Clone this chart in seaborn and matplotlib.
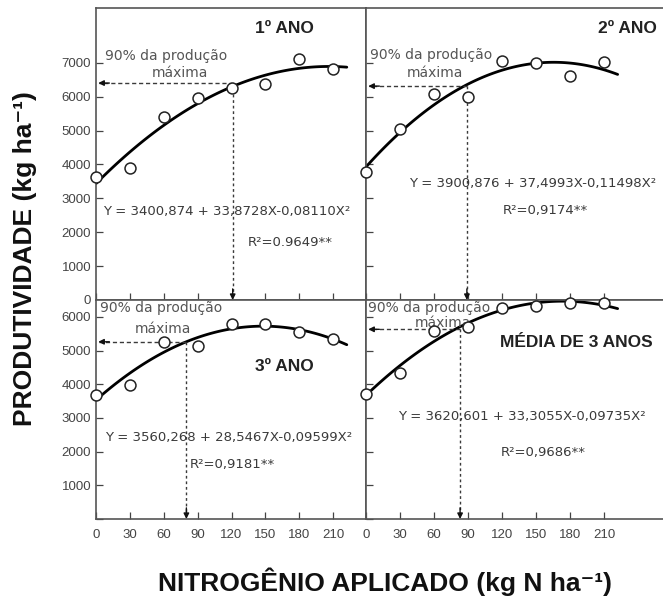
import matplotlib

matplotlib.use("Agg")
import matplotlib.pyplot as plt
import seaborn as sns

# doses de N (kg N/ha) e produtividade (kg/ha)
n_doses = [0, 30, 60, 90, 120, 150, 180, 210]
ano1 = [3630, 3890, 5400, 5950, 6250, 6370, 7100, 6800]
ano2 = [3780, 5040, 6070, 5980, 7050, 6990, 6600, 7030]
ano3 = [3680, 3980, 5260, 5130, 5800, 5780, 5560, 5330]
media = [3700, 4340, 5590, 5710, 6250, 6320, 6420, 6400]

titulos = ["1º ANO", "2º ANO", "3º ANO", "MÉDIA DE 3 ANOS"]
equacoes = [
    "Y = 3400,874 + 33,8728X-0,08110X²",
    "Y = 3900,876 + 37,4993X-0,11498X²",
    "Y = 3560,268 + 28,5467X-0,09599X²",
    "Y = 3620,601 + 33,3055X-0,09735X²",
]
r2_textos = ["R²=0.9649**", "R²=0,9174**", "R²=0,9181**", "R²=0,9686**"]

# ponto de 90% da produção máxima (dose, produtividade)
dose_90 = [121, 89, 80, 83]
prod_90 = [6400, 6310, 5260, 5630]

x_ticks = [0, 30, 60, 90, 120, 150, 180, 210]

sns.set_style("ticks")
plt.rcParams["font.family"] = ["Liberation Sans", "DejaVu Sans"]

W, H = 663, 600
fig = plt.figure(figsize=(W / 100, H / 100), dpi=100)

# posições em pixels: (esquerda, base, largura, altura)
caixas = [
    (96, 300, 270, 292),
    (366, 300, 297, 292),
    (96, 519, 270, 219),
    (366, 519, 297, 219),
]
limites_x = [239, 262, 239, 262]
limites_y = [8614, 8614, 6500, 6500]

# posições dos textos em coordenadas de dados
pos_titulo = [(167, 8020, "center"), (231, 8020, "center"), (167, 4540, "center"), (118, 5250, "left")]
pos_90 = [(8, 7200), (3.5, 7230), (3.5, 6260), (2, 6260)]
pos_max = [(74, 6700), (61, 6700), (59, 5640), (68, 5820)]
pos_eq = [(6, 2600), (38, 3450), (8, 2430), (28, 3030)]
pos_r2 = [(172, 1710), (158, 2650), (121, 1630), (156, 1960)]

series = [ano1, ano2, ano3, media]
cinza = "#3a3a3a"
fonte_peq = ["DejaVu Sans"]

for i, valores in enumerate(series):
    esq, base, larg, alt = caixas[i]
    ax = fig.add_axes([esq / W, 1 - base / H, larg / W, alt / H])

    # curva quadrática ajustada (até ~222 kg N/ha)
    ax.set_xlim(0, 222)
    sns.regplot(
        x=n_doses,
        y=valores,
        order=2,
        ci=None,
        scatter=False,
        truncate=False,
        ax=ax,
        line_kws={"color": "black", "lw": 2.0},
    )
    sns.scatterplot(
        x=n_doses,
        y=valores,
        ax=ax,
        marker="o",
        s=62,
        facecolor="white",
        edgecolor="#222222",
        linewidth=1.1,
        zorder=5,
        clip_on=False,
    )

    ax.set_xlim(0, limites_x[i])
    ax.set_ylim(0, limites_y[i])

    # linhas tracejadas de 90% da produção máxima
    xd, yd = dose_90[i], prod_90[i]
    ax.plot([xd, 3], [yd, yd], ls=(0, (3, 2)), color=cinza, lw=1)
    ax.plot([xd, xd], [yd, limites_y[i] * 0.015], ls=(0, (2, 2)), color=cinza, lw=1)
    seta = dict(arrowstyle="-|>", color="#111111", lw=1, mutation_scale=8, shrinkA=0, shrinkB=0)
    ax.annotate("", xy=(2, yd), xytext=(8, 0), textcoords="offset points", arrowprops=seta)
    ax.annotate("", xy=(xd, 0), xytext=(0, 8), textcoords="offset points", arrowprops=seta)

    tx, ty, ha = pos_titulo[i]
    ax.text(tx, ty, titulos[i], fontsize=12.5, fontweight="bold", color="#222222", ha=ha, va="center")
    ax.text(*pos_90[i], "90% da produção", fontsize=10, color="#555555", ha="left", va="center", family=fonte_peq)
    ax.text(*pos_max[i], "máxima", fontsize=10, color="#555555", ha="center", va="center", family=fonte_peq)
    ax.text(*pos_eq[i], equacoes[i], fontsize=9.5, color=cinza, ha="left", va="center", family=fonte_peq)
    ax.text(*pos_r2[i], r2_textos[i], fontsize=9.5, color=cinza, ha="center", va="center", family=fonte_peq)

    ax.set_xticks(x_ticks)
    if i < 2:
        ax.set_yticks(range(0, 8000, 1000))
    else:
        ax.set_yticks(range(0, 7000, 1000))
    ax.tick_params(direction="in", length=5, width=0.9, color="#444444", labelsize=9.5, labelcolor="#444444")
    ax.tick_params(axis="x", pad=7)

    if i in (0, 1):
        ax.tick_params(labelbottom=False)
    if i in (1, 3):
        ax.tick_params(labelleft=False)
        ax.spines["right"].set_visible(False)
    if i == 2:
        ax.set_yticklabels([""] + [str(v) for v in range(1000, 7000, 1000)])

    for lado in ["left", "right", "top", "bottom"]:
        ax.spines[lado].set_color("#555555")
        ax.spines[lado].set_linewidth(1.2)

fig.text(25 / W, 1 - 259 / H, "PRODUTIVIDADE (kg ha⁻¹)", rotation=90, fontsize=19,
         fontweight="bold", ha="center", va="center", color="#111111")
fig.text(385 / W, 1 - 582 / H, "NITROGÊNIO APLICADO (kg N ha⁻¹)", fontsize=19,
         fontweight="bold", ha="center", va="center", color="#111111")

fig.savefig("out.png", dpi=100)
